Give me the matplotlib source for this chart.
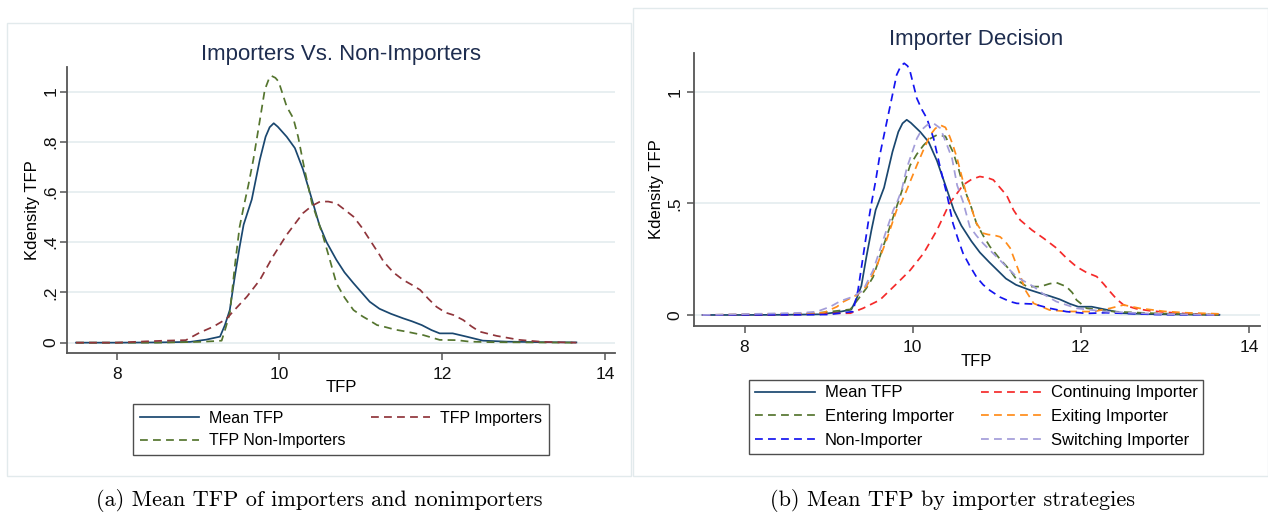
import matplotlib
matplotlib.use("Agg")
import matplotlib.pyplot as plt
from matplotlib.patches import Rectangle

plt.rcParams['font.family'] = ['Liberation Sans', 'DejaVu Sans']

# ---------------- data ----------------
# Panel (a)
mean_x = [7.5, 8.0, 8.5, 8.9, 9.1, 9.27, 9.33, 9.39, 9.45, 9.51, 9.56, 9.62, 9.66, 9.76, 9.83, 9.88,
          9.93, 9.98, 10.09, 10.19, 10.29, 10.40, 10.49, 10.58, 10.70, 10.80, 10.91, 11.01, 11.11,
          11.23, 11.37, 11.52, 11.63, 11.75, 11.87, 11.97, 12.13, 12.30, 12.50, 12.8, 13.2, 13.65]
mean_y = [0.0, 0.0, 0.001, 0.003, 0.012, 0.024, 0.07, 0.13, 0.26, 0.38, 0.47, 0.53, 0.57, 0.73, 0.82,
          0.858, 0.874, 0.86, 0.82, 0.775, 0.69, 0.57, 0.47, 0.40, 0.33, 0.28, 0.237, 0.2, 0.163,
          0.135, 0.115, 0.097, 0.085, 0.07, 0.05, 0.037, 0.037, 0.024, 0.008, 0.004, 0.002, 0.001]

imp_x = [7.5, 8.0, 8.35, 8.6, 8.85, 9.02, 9.19, 9.35, 9.43, 9.60, 9.76, 9.92, 10.09, 10.29, 10.40,
         10.50, 10.60, 10.70, 10.80, 10.91, 11.01, 11.11, 11.23, 11.28, 11.40, 11.52, 11.63, 11.73,
         11.83, 11.93, 12.04, 12.14, 12.26, 12.36, 12.46, 12.67, 12.95, 13.24, 13.65]
imp_y = [0.0, 0.0, 0.005, 0.008, 0.01, 0.04, 0.064, 0.095, 0.124, 0.183, 0.25, 0.343, 0.43, 0.516,
         0.545, 0.562, 0.562, 0.555, 0.53, 0.502, 0.46, 0.41, 0.35, 0.323, 0.28, 0.25, 0.23, 0.21,
         0.175, 0.143, 0.12, 0.11, 0.09, 0.065, 0.044, 0.027, 0.011, 0.003, 0.0]

nonimp_x = [7.5, 8.5, 9.0, 9.2, 9.29, 9.34, 9.39, 9.45, 9.51, 9.56, 9.62, 9.68, 9.76, 9.82, 9.87,
            9.90, 9.95, 9.99, 10.04, 10.09, 10.17, 10.23, 10.31, 10.40, 10.48, 10.54, 10.62, 10.70,
            10.80, 10.91, 11.02, 11.11, 11.20, 11.28, 11.42, 11.56, 11.77, 11.97, 12.18, 12.34,
            12.6, 13.65]
nonimp_y = [0.0, 0.0, 0.003, 0.006, 0.008, 0.06, 0.117, 0.30, 0.46, 0.54, 0.63, 0.73, 0.887, 1.007,
            1.05, 1.063, 1.055, 1.04, 0.99, 0.94, 0.894, 0.82, 0.688, 0.555, 0.48, 0.42, 0.33,
            0.237, 0.18, 0.13, 0.105, 0.088, 0.07, 0.064, 0.052, 0.044, 0.03, 0.011, 0.01, 0.004,
            0.002, 0.0]

# Panel (b)
cont_x = [7.5, 8.5, 9.02, 9.26, 9.41, 9.61, 9.81, 9.97, 10.13, 10.29, 10.44, 10.52, 10.60, 10.70,
          10.80, 10.90, 10.96, 11.04, 11.12, 11.20, 11.28, 11.42, 11.56, 11.71, 11.83, 11.95, 12.07,
          12.19, 12.27, 12.35, 12.43, 12.51, 12.66, 12.82, 13.02, 13.22, 13.65]
cont_y = [0.0, 0.001, 0.007, 0.008, 0.03, 0.067, 0.14, 0.2, 0.276, 0.38, 0.5, 0.54, 0.582, 0.607,
          0.62, 0.613, 0.605, 0.57, 0.535, 0.47, 0.425, 0.38, 0.343, 0.3, 0.255, 0.216, 0.19,
          0.172, 0.14, 0.104, 0.07, 0.045, 0.028, 0.019, 0.012, 0.007, 0.0]

ent_x = [7.5, 8.5, 8.8, 9.02, 9.26, 9.37, 9.45, 9.53, 9.65, 9.77, 9.85, 9.91, 9.97, 10.05, 10.13,
         10.21, 10.29, 10.39, 10.48, 10.55, 10.60, 10.65, 10.70, 10.76, 10.84, 10.92, 11.04, 11.16,
         11.24, 11.36, 11.52, 11.63, 11.71, 11.83, 11.90, 11.95, 12.07, 12.4, 12.9, 13.65]
ent_y = [0.0, 0.003, 0.006, 0.015, 0.025, 0.08, 0.12, 0.17, 0.306, 0.44, 0.53, 0.6, 0.67, 0.72,
         0.76, 0.79, 0.806, 0.8, 0.73, 0.65, 0.58, 0.53, 0.48, 0.41, 0.355, 0.306, 0.25, 0.2,
         0.157, 0.127, 0.127, 0.14, 0.145, 0.127, 0.1, 0.067, 0.03, 0.015, 0.007, 0.0]

exit_x = [7.5, 8.5, 8.94, 9.10, 9.18, 9.26, 9.34, 9.45, 9.57, 9.69, 9.81, 9.87, 9.93, 10.05, 10.13,
          10.21, 10.27, 10.33, 10.39, 10.44, 10.48, 10.53, 10.58, 10.64, 10.68, 10.76, 10.84, 10.90,
          10.96, 11.04, 11.10, 11.16, 11.26, 11.34, 11.44, 11.63, 11.83, 12.15, 12.35, 12.51, 12.70,
          13.0, 13.25, 13.5, 13.65]
exit_y = [0.0, 0.005, 0.01, 0.037, 0.06, 0.075, 0.09, 0.127, 0.216, 0.336, 0.47, 0.507, 0.56, 0.67,
          0.74, 0.806, 0.835, 0.85, 0.84, 0.8, 0.76, 0.7, 0.627, 0.54, 0.5, 0.41, 0.366, 0.36,
          0.358, 0.35, 0.33, 0.3, 0.2, 0.112, 0.052, 0.022, 0.016, 0.015, 0.03, 0.045, 0.03, 0.016,
          0.01, 0.007, 0.005]

non_x = [7.5, 8.5, 9.0, 9.29, 9.35, 9.41, 9.47, 9.51, 9.56, 9.61, 9.71, 9.81, 9.86, 9.90, 9.94,
         9.97, 10.01, 10.05, 10.11, 10.17, 10.25, 10.33, 10.41, 10.48, 10.54, 10.60, 10.68, 10.76,
         10.84, 10.92, 11.04, 11.16, 11.24, 11.44, 11.63, 11.83, 12.07, 12.3, 12.9, 13.65]
non_y = [0.0, 0.001, 0.002, 0.015, 0.11, 0.26, 0.41, 0.5, 0.6, 0.716, 0.896, 1.075, 1.115, 1.127,
         1.115, 1.09, 1.03, 0.97, 0.92, 0.88, 0.79, 0.657, 0.537, 0.41, 0.34, 0.276, 0.22, 0.17,
         0.135, 0.11, 0.08, 0.06, 0.052, 0.049, 0.03, 0.015, 0.007, 0.01, 0.002, 0.0]

sw_x = [7.5, 8.5, 8.7, 8.86, 9.02, 9.14, 9.29, 9.41, 9.53, 9.65, 9.77, 9.81, 9.87, 9.93, 10.05,
        10.11, 10.17, 10.25, 10.33, 10.41, 10.47, 10.53, 10.60, 10.68, 10.76, 10.84, 11.0, 11.16,
        11.24, 11.44, 11.57, 11.71, 11.95, 12.3, 12.9, 13.65]
sw_y = [0.0, 0.008, 0.01, 0.015, 0.037, 0.062, 0.082, 0.11, 0.2, 0.336, 0.47, 0.5, 0.56, 0.657,
        0.79, 0.83, 0.85, 0.858, 0.836, 0.76, 0.7, 0.58, 0.507, 0.395, 0.355, 0.32, 0.26, 0.2,
        0.17, 0.127, 0.09, 0.06, 0.03, 0.015, 0.005, 0.0]

xticks = [8, 10, 12, 14]
yticks_a = [0, 0.2, 0.4, 0.6, 0.8, 1.0]
ytick_labels_a = ['0', '.2', '.4', '.6', '.8', '1']
yticks_b = [0, 0.5, 1.0]
ytick_labels_b = ['0', '.5', '1']

# ---------------- styles ----------------
NAVY = '#1a476f'
MAROON = '#90353b'
FOREST = '#55752f'
RED = '#f52a2a'
BLUE = '#1414f0'
ORANGE = '#ff8c1a'
LAV = '#a39dd9'
GRID = '#e6eef0'
AXC = '#555555'
TITLEC = '#1e2d4f'
DASH = (4.5, 3.0)
LW = 1.25

W, H = 1268, 513
fig = plt.figure(figsize=(W / 100, H / 100), dpi=100)

def fx(px):
    return px / W

def fy(py):
    return 1 - py / H

# panel borders
fig.patches.append(Rectangle((fx(6.5), fy(476)), fx(631) - fx(6.5), fy(23) - fy(476),
                             transform=fig.transFigure, fill=False, edgecolor='#e2eaec', lw=1.0))
fig.patches.append(Rectangle((fx(633), fy(476)), fx(1267.5) - fx(633), fy(8) - fy(476),
                             transform=fig.transFigure, fill=False, edgecolor='#e2eaec', lw=1.0))

def style_axes(ax, yt, ytl, ypad):
    for s in ['top', 'right']:
        ax.spines[s].set_visible(False)
    for s in ['left', 'bottom']:
        ax.spines[s].set_color(AXC)
        ax.spines[s].set_linewidth(1.3)
    ax.set_xticks(xticks)
    ax.set_yticks(yt)
    ax.set_yticklabels(ytl, rotation=90, va='center')
    ax.tick_params(axis='both', length=5, width=1.1, color=AXC, labelsize=12.5,
                   labelcolor='#111111')
    ax.tick_params(axis='x', pad=5)
    ax.tick_params(axis='y', pad=ypad)
    ax.grid(axis='y', color=GRID, lw=1.3)
    ax.set_axisbelow(True)

# ---------------- panel (a) ----------------
axa = fig.add_axes([fx(67), fy(352.7), fx(614.6) - fx(67), fy(67) - fy(352.7)])
axa.set_xlim(7.389, 14.12)
axa.set_ylim(-0.04, 1.098)
style_axes(axa, yticks_a, ytick_labels_a, 1.0)
la1, = axa.plot(mean_x, mean_y, color=NAVY, lw=LW, label='Mean TFP')
la2, = axa.plot(nonimp_x, nonimp_y, color=FOREST, lw=LW, dashes=DASH, label='TFP Non-Importers')
la3, = axa.plot(imp_x, imp_y, color=MAROON, lw=LW, dashes=DASH, label='TFP Importers')

fig.text(fx(341), fy(60), 'Importers Vs. Non-Importers', ha='center', va='baseline',
         fontsize=16, color=TITLEC)
fig.text(fx(32), fy(210), 'Kdensity TFP', rotation=90, ha='center', va='center', fontsize=12)
fig.text(fx(341), fy(387), 'TFP', ha='center', va='center', fontsize=12)

lega = axa.legend(handles=[la1, la2, la3], ncol=2, loc='center',
                  bbox_to_anchor=(fx(341), fy(429.5)), bbox_transform=fig.transFigure,
                  frameon=True, fancybox=False, edgecolor='#222222', fontsize=11.5,
                  handlelength=3.7, handletextpad=0.6, columnspacing=1.6,
                  labelspacing=0.45, borderpad=0.45)
lega.get_frame().set_linewidth(1.0)

# ---------------- panel (b) ----------------
axb = fig.add_axes([fx(694), fy(325.7), fx(1260) - fx(694), fy(53) - fy(325.7)])
axb.set_xlim(7.399, 14.133)
axb.set_ylim(-0.048, 1.173)
style_axes(axb, yticks_b, ytick_labels_b, 3.5)
lb1, = axb.plot(mean_x, mean_y, color=NAVY, lw=LW, label='Mean TFP')
lb2, = axb.plot(cont_x, cont_y, color=RED, lw=LW, dashes=DASH, label='Continuing Importer')
lb3, = axb.plot(ent_x, ent_y, color=FOREST, lw=LW, dashes=DASH, label='Entering Importer')
lb4, = axb.plot(exit_x, exit_y, color=ORANGE, lw=LW, dashes=DASH, label='Exiting Importer')
lb5, = axb.plot(non_x, non_y, color=BLUE, lw=LW, dashes=DASH, label='Non-Importer')
lb6, = axb.plot(sw_x, sw_y, color=LAV, lw=LW, dashes=DASH, label='Switching Importer')

fig.text(fx(976), fy(45), 'Importer Decision', ha='center', va='baseline',
         fontsize=16, color=TITLEC)
fig.text(fx(657), fy(189), 'Kdensity TFP', rotation=90, ha='center', va='center', fontsize=12)
fig.text(fx(976), fy(361), 'TFP', ha='center', va='center', fontsize=12)

legb = axb.legend(handles=[lb1, lb3, lb5, lb2, lb4, lb6], ncol=2, loc='center',
                  bbox_to_anchor=(fx(976.2), fy(416.5)), bbox_transform=fig.transFigure,
                  frameon=True, fancybox=False, edgecolor='#222222', fontsize=12,
                  handlelength=3.6, handletextpad=0.6, columnspacing=1.6,
                  labelspacing=0.52, borderpad=0.35)
legb.get_frame().set_linewidth(1.0)

# ---------------- captions ----------------
fig.text(fx(319), fy(501), '(a) Mean TFP of importers and nonimporters', ha='center', va='center',
         fontsize=16, family=['cmr10', 'DejaVu Serif'])
fig.text(fx(953), fy(501), '(b) Mean TFP by importer strategies', ha='center', va='center',
         fontsize=16, family=['cmr10', 'DejaVu Serif'])

fig.savefig('out.png', dpi=100)
